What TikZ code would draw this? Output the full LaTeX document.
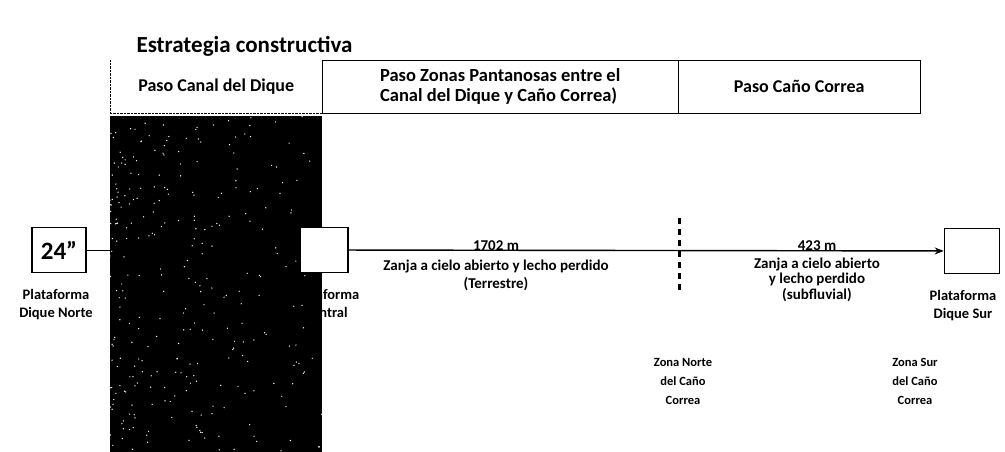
\documentclass[tikz,border=0pt]{standalone}
\usepackage{fontspec}
\setmainfont{Carlito}
\usetikzlibrary{positioning, arrows.meta}

\begin{document}
\begin{tikzpicture}[x=1pt, y=-1pt,
    every node/.style={font=\bfseries},
    tramo/.style={draw, thin, minimum height=53pt, inner sep=0pt,
      font=\bfseries\fontsize{18}{20}\selectfont},
    plataforma/.style={draw, line width=1.6pt, fill=white,
      minimum height=45pt, inner sep=0pt},
    rotulo/.style={font=\bfseries\fontsize{14.5}{18}\selectfont, align=center},
    zona/.style={font=\bfseries\fontsize{12.5}{19}\selectfont, align=center},
    cota/.style={font=\bfseries\fontsize{15}{18}\selectfont, align=center},
  ]
  \useasboundingbox (0,0) rectangle (1005,452);

  \node[font=\bfseries\fontsize{23}{27}\selectfont, anchor=west] (titulo)
    at (133,46) {Estrategia constructiva};

  % tramos de la estrategia
  \node[tramo, draw=none, minimum width=212pt, anchor=north west] (canal)
    at (110,60) {Paso Canal del Dique};
  \node[tramo, minimum width=356pt, anchor=north west, align=left,
    font=\bfseries\fontsize{18.5}{20}\selectfont] (pantano)
    at (322,60) {Paso Zonas Pantanosas entre el\\Canal del Dique y Caño Correa)};
  \node[tramo, minimum width=242pt, anchor=north west] (cano)
    at (678,60) {Paso Caño Correa};
  \draw[densely dotted] (canal.north west) -- (canal.south west) -- (canal.south east);

  % plataformas y tuberia
  \node[plataforma, minimum width=54pt, font=\bfseries\fontsize{25}{28}\selectfont]
    (norte) at (59,250) {24"};
  \node[plataforma, minimum width=48pt] (central) at (324,250) {};
  \node[plataforma, minimum width=55pt] (sur) at (972,251) {};
  \draw[thick] (norte) -- (central);

  % zona del canal
  \fill[black] (110,116) rectangle (322,452);
  \pgfmathsetseed{24}
  \foreach \i in {1,...,300}{
    \pgfmathsetmacro{\px}{110+212*rnd^1.8}
    \pgfmathsetmacro{\py}{116+336*rnd}
    \fill[white] (\px,\py) circle (0.7pt);
  }
  \node[plataforma, minimum width=48pt] (central) at (324,250) {};

  \draw[line width=1.4pt, -{Stealth[length=9pt, width=7pt]}] (central) -- (sur);

  \node[rotulo, below=12pt of norte, xshift=-3pt] (lnorte) {Plataforma\\Dique Norte};
  \node[rotulo, below=12pt of central, xshift=2pt] (lcentral) {Plataforma\\Central};
  \node[rotulo, below=12pt of sur, xshift=-9pt] (lsur) {Plataforma\\Dique Sur};

  % tramo terrestre
  \node[cota, anchor=south, inner sep=1pt] (m1702) at (496,252) {1702 m};
  \node[cota, below=4pt of m1702] (terrestre)
    {Zanja a cielo abierto y lecho perdido\\(Terrestre)};

  % tramo subfluvial
  \node[cota, anchor=south, inner sep=1pt] (m423) at (817,252) {423 m};
  \node[cota, below=2pt of m423, font=\bfseries\fontsize{15}{15.5}\selectfont] (subfluvial)
    {Zanja a cielo abierto\\y lecho perdido\\(subfluvial)};

  % limite de zonas
  \coordinate (corte1) at (679,218);
  \coordinate (corte2) at (679,292);
  \draw[line width=3pt, dash pattern=on 6pt off 5pt] (corte1) -- (corte2);

  \node[zona] (znorte) at (683,381) {Zona Norte\\del Caño\\Correa};
  \node[zona] (zsur) at (915,381) {Zona Sur\\del Caño\\Correa};
\end{tikzpicture}
\end{document}
